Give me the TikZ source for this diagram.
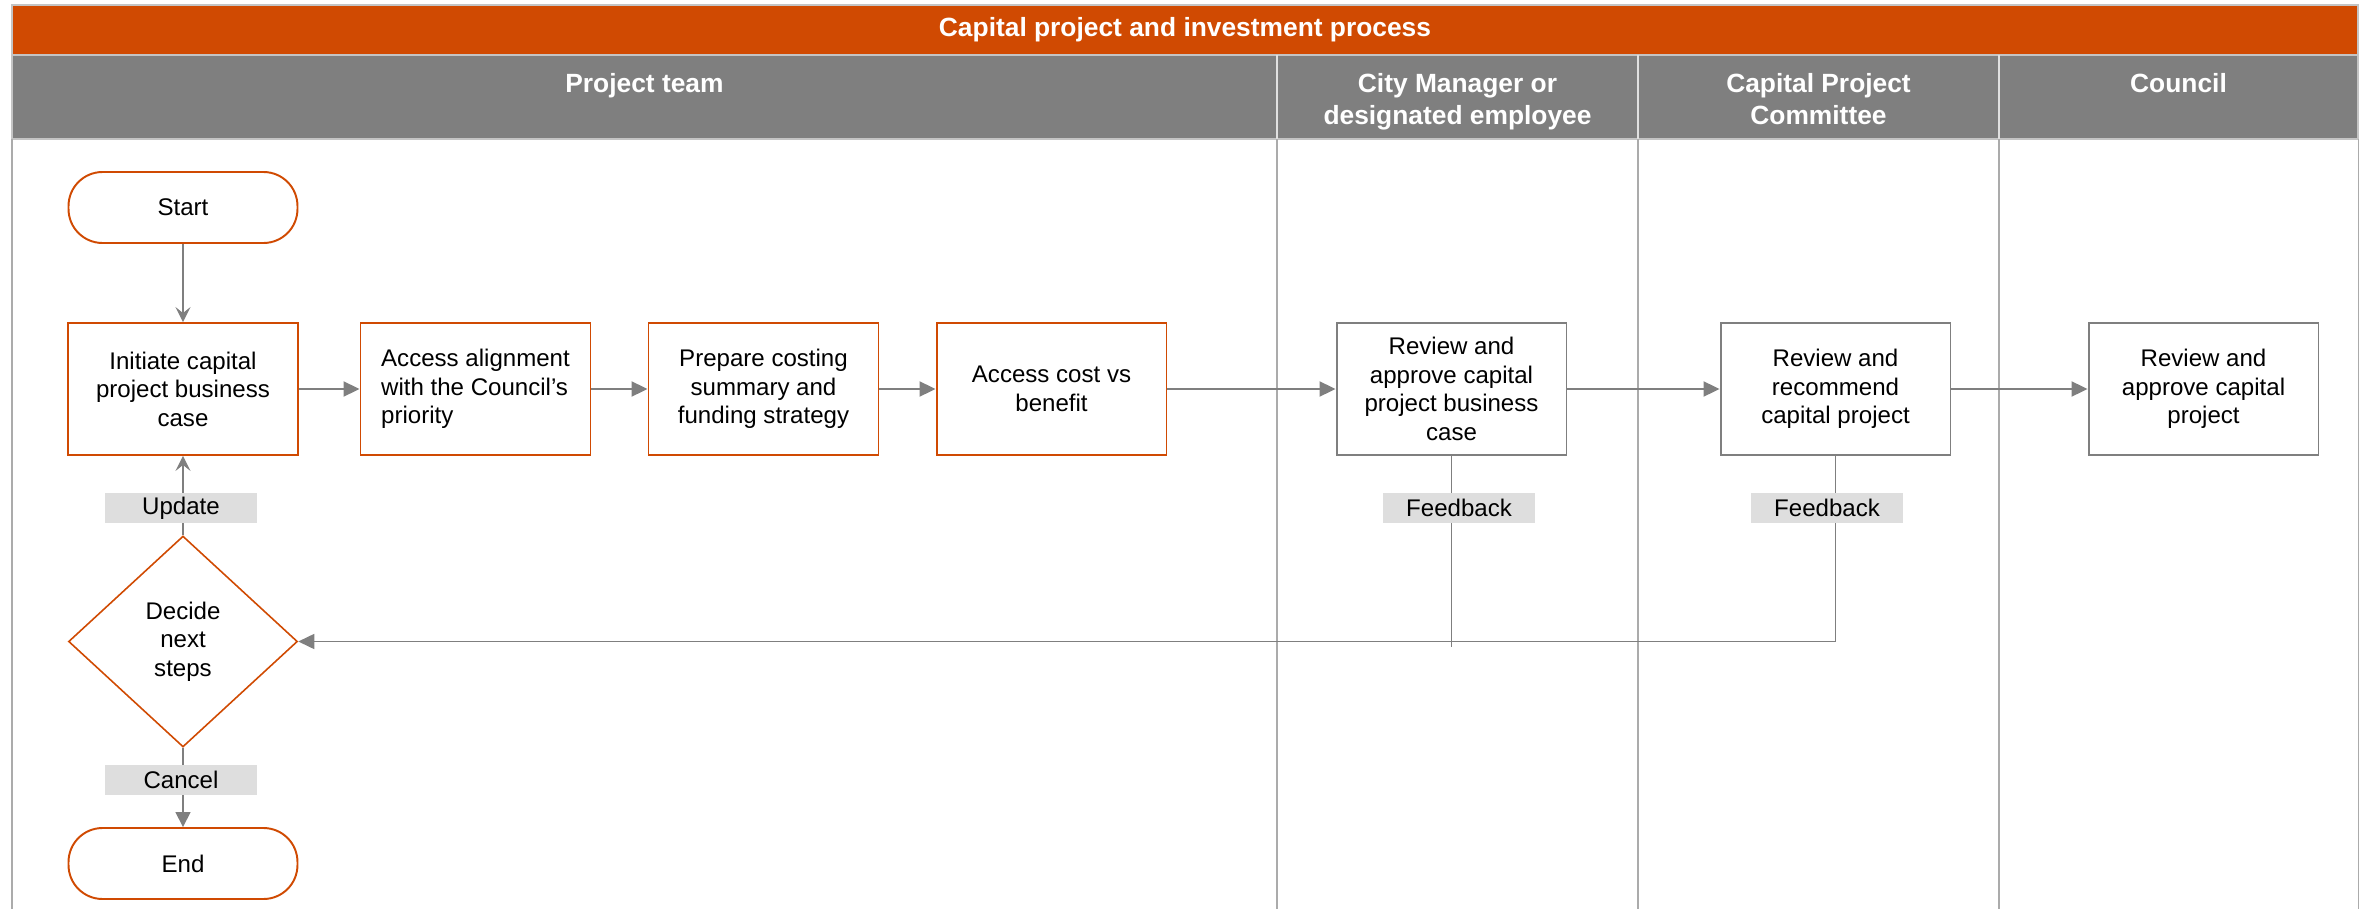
\documentclass[tikz,border=0pt]{standalone}
\usepackage{fontspec}
\setmainfont{Liberation Sans}
\usetikzlibrary{positioning, arrows.meta, shapes.geometric}

\definecolor{pwcorange}{HTML}{D04A02}
\definecolor{headgray}{HTML}{7F7F7F}
\definecolor{linkgray}{HTML}{7F7F7F}
\definecolor{tagfill}{HTML}{DEDEDE}
\definecolor{lanegray}{HTML}{ABABAB}
\definecolor{rulegray}{HTML}{C4C4C4}

\begin{document}
\begin{tikzpicture}[
  x=0.02cm, y=-0.02cm,
  font=\fontsize{13.7}{16.2}\selectfont,
  task/.style={
    draw=#1, fill=white, line width=1.1pt,
    minimum width=4.6cm, minimum height=2.64cm,
    inner sep=2pt, align=center
  },
  task/.default=pwcorange,
  term/.style={
    draw=pwcorange, fill=white, line width=1.1pt,
    rounded corners=0.68cm,
    minimum width=4.58cm, minimum height=1.42cm
  },
  choice/.style={
    diamond, draw=pwcorange, fill=white, line width=0.9pt,
    minimum width=4.58cm, minimum height=4.22cm,
    inner sep=0pt, align=center
  },
  tag/.style={fill=tagfill, minimum width=3.04cm, minimum height=0.6cm, inner sep=0pt},
  lanehead/.style={
    font=\fontsize{15}{18.5}\selectfont\bfseries, text=white,
    align=center, anchor=north, inner sep=0pt
  },
  lane/.style={lanegray, line width=0.6pt},
  hlink/.style={-{Triangle[length=0.32cm, width=0.3cm]}, line width=1.1pt, linkgray},
  vlink/.style={-{Stealth[length=0.3cm, width=0.3cm, inset=0.12cm]}, line width=0.7pt, linkgray},
  endlink/.style={-{Triangle[length=0.3cm, width=0.3cm]}, line width=0.9pt, linkgray},
  fblink/.style={-, line width=0.7pt, linkgray},
]
  \useasboundingbox (0,0) rectangle (2363,909);

  % title bar and lane headers
  \fill[pwcorange] (12,5) rectangle (2358,55);
  \fill[headgray] (12,55) rectangle (2358,139);
  \draw[rulegray, line width=0.9pt] (12,5) rectangle (2358,55) (12,55) rectangle (2358,139);
  \foreach \x in {1277,1638,1999} {
    \draw[white!88!black, line width=0.9pt] (\x,55) -- (\x,139);
  }
  \node[font=\fontsize{15}{18.5}\selectfont\bfseries, text=white] (title) at (1185,30)
    {Capital project and investment process};
  \node[lanehead] (hteam) at (644.5,73) {Project team};
  \node[lanehead] (hcity) at (1457.5,73) {City Manager or\\designated employee};
  \node[lanehead] (hcpc) at (1818.5,73) {Capital Project\\Committee};
  \node[lanehead] (hcouncil) at (2178.5,73) {Council};

  % swimlane borders
  \foreach \x in {12,1277,1638,1999,2358} {
    \draw[lane] (\x,139) -- (\x,909);
  }

  % steps
  \node[term] (start) at (183,207.5) {Start};
  \node[task] (b1) at (183,389) {Initiate capital\\project business\\case};
  \node[task, align=left] (b2) at (475.5,389) {Access alignment\\with the Council’s\\priority};
  \node[task] (b3) at (763.5,389) {Prepare costing\\summary and\\funding strategy};
  \node[task] (b4) at (1051.5,389) {Access cost vs\\benefit};
  \node[task=linkgray] (b5) at (1451.5,389) {Review and\\approve capital\\project business\\case};
  \node[task=linkgray] (b6) at (1835.5,389) {Review and\\recommend\\capital project};
  \node[task=linkgray] (b7) at (2203.5,389) {Review and\\approve capital\\project};
  \node[choice] (dec) at (183,641.5) {Decide\\next\\steps};
  \node[term] (end) at (183,863.5) {End};
  \coordinate (fbend) at (1451.5,647);

  % links
  \draw[vlink] (start) -- (b1);
  \draw[hlink] (b1) -- (b2);
  \draw[hlink] (b2) -- (b3);
  \draw[hlink] (b3) -- (b4);
  \draw[hlink] (b4) -- (b5);
  \draw[hlink] (b5) -- (b6);
  \draw[hlink] (b6) -- (b7);
  \draw[vlink] (dec) -- (b1);
  \draw[endlink] (dec) -- (end);
  \draw[fblink] (b5.south) -- (fbend);
  \draw[hlink, line width=0.9pt] (b6.south) |- (dec.east);

  % labels on the links
  \node[tag] (update) at (181,508) {Update};
  \node[tag] (cancel) at (181,779.5) {Cancel};
  \node[tag] (fbcity) at (1459,508) {Feedback};
  \node[tag] (fbcpc) at (1827,508) {Feedback};
\end{tikzpicture}
\end{document}
